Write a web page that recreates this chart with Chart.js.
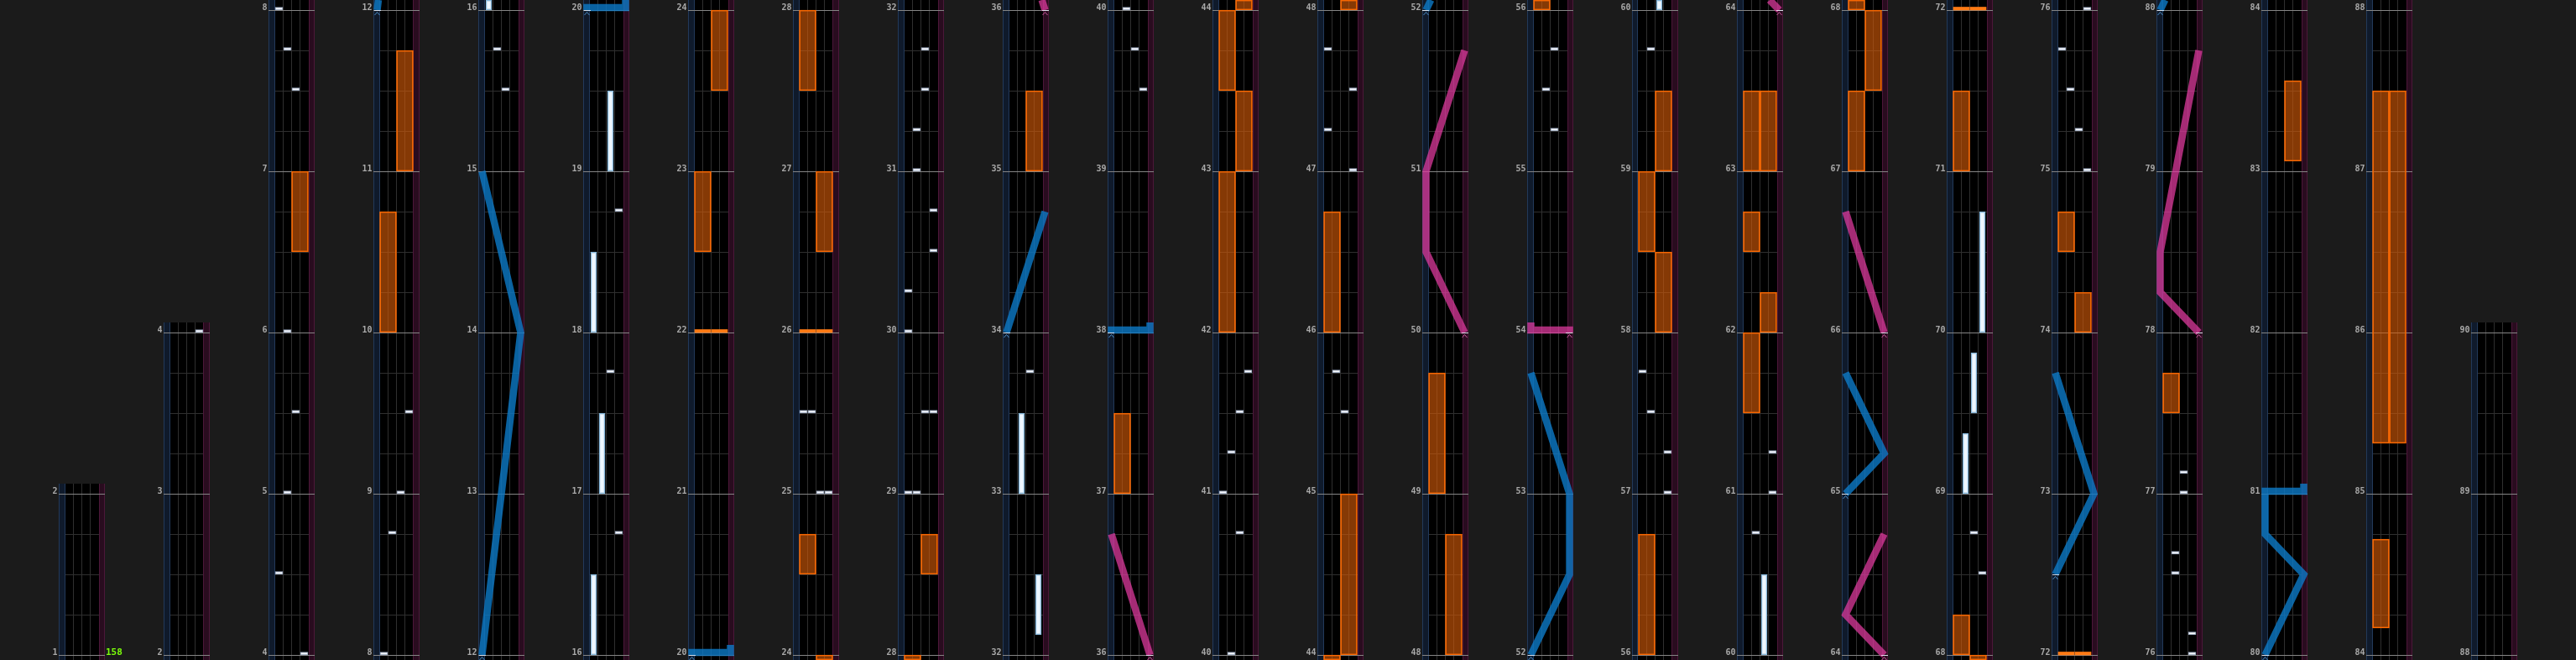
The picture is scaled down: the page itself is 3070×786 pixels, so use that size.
<!DOCTYPE html>
<html>
<head>
<meta charset="utf-8">
<script src="https://cdn.jsdelivr.net/npm/chart.js@4.4.1/dist/chart.umd.min.js"></script>
<style>
html,body{margin:0;padding:0;background:#1b1b1b;overflow:hidden}
canvas{display:block}
</style>
</head>
<body>
<canvas id="c" width="3070" height="786"></canvas>
<script>
// ---------------- DATA ----------------
// measure shown at the bottom of each column, and how many measures each column holds
const columnFirstMeasure = [1,2,4,8,12,16,20,24,28,32,36,40,44,48,52,56,60,64,68,72,76,80,84,88];
const columnMeasureCount = [1,2,4,4,4,4,4,4,4,4,4,4,4,4,4,4,4,4,4,4,4,4,4,2];
// [measure, bpm]
const bpmLabels = [[1, 158]];
// BT chips: [time in measures, lane 0..3]
const btChips = [
  [4.0,3],[4.5,0],[5.0,1],[5.5,2],[6.0,1],[7.5,2],[7.75,1],[8.0,0],[8.75,1],[9.0,2],[9.5,3],
  [15.5,2],[15.75,1],[16.75,3],[17.75,2],[18.75,3],
  [25.0,2],[25.0,3],[25.5,0],[25.5,1],
  [29.0,0],[29.0,1],[29.5,2],[29.5,3],[30.0,0],[30.25,0],[30.5,3],[30.75,3],[31.0,1],[31.25,1],[31.5,2],[31.75,2],
  [33.75,2],[39.5,3],[39.75,2],[40.0,1],[40.75,2],[41.0,0],[41.25,1],[41.5,2],[41.75,3],
  [45.5,2],[45.75,1],[47.0,3],[47.25,0],[47.5,3],[47.75,0],
  [55.25,2],[55.5,1],[55.75,2],[57.0,3],[57.25,3],[57.5,1],[57.75,0],[59.75,1],
  [60.75,1],[61.0,3],[61.25,3],[68.5,3],[68.75,2],
  [75.0,3],[75.25,2],[75.5,1],[75.75,0],[76.0,3],[76.125,3],[76.5,1],[76.625,1],[77.0,2],[77.125,2]
];
// BT holds: [start, end, lane]
const btHolds = [
  [16.0,16.5,0],[17.0,17.5,1],[18.0,18.5,0],[19.0,19.5,2],[32.125,32.5,3],[33.0,33.5,1],
  [60.0,60.5,2],[69.0,69.375,1],[69.5,69.875,2],[70.0,70.75,3]
];
// FX chips: [time, side 0=L 1=R]
const fxChips = [[22.0,0],[22.0,1],[26.0,0],[26.0,1],[72.0,0],[72.0,1]];
// FX holds: [start, end, side]
const fxHolds = [
  [6.5,7.0,1],[10.0,10.75,0],[11.0,11.75,1],[22.5,23.0,0],[23.5,24.0,1],[24.5,24.75,0],
  [26.5,27.0,1],[27.5,28.0,0],[28.5,28.75,1],[35.0,35.5,1],[37.0,37.5,0],[42.0,43.0,0],
  [43.0,43.5,1],[43.5,44.0,0],[44.0,45.0,1],[46.0,46.75,0],[48.0,48.75,1],[49.0,49.75,0],
  [56.0,56.75,0],[58.0,58.5,1],[58.5,59.0,0],[59.0,59.5,1],[61.5,62.0,0],[62.0,62.25,1],
  [62.5,62.75,0],[63.0,63.5,0],[63.0,63.5,1],[67.0,67.5,0],[67.5,68.0,1],[68.0,68.25,0],
  [71.0,71.5,0],[74.0,74.25,1],[74.5,74.75,0],[77.5,77.75,0],[83.0625,83.5625,1],
  [84.1667,84.7188,0],[85.3125,87.5,0],[85.3125,87.5,1]
];
// Lasers: chains of [time, position 0..1]; two points at the same time = slam
const laserLeft = [
  [[12,0],[14,1],[15,0]],
  [[20,0],[20,1]],
  [[34,0],[34.75,1]],
  [[38,0],[38,1]],
  [[52,0],[52.5,1],[53,1],[53.75,0]],
  [[65,0],[65.25,1],[65.75,0]],
  [[72.5,0],[73,1],[73.75,0]],
  [[80,0],[80.5,1],[80.75,0],[81,0],[81,1]]
];
const laserRight = [
  [[36,1],[36.75,0]],
  [[50,1],[50.5,0],[51,0],[51.75,1]],
  [[54,1],[54,0]],
  [[64,1],[64.25,0],[64.75,1]],
  [[66,1],[66.75,0]],
  [[78,1],[78.25,0],[78.5,0],[79.75,1]]
];

// ---------------- GEOMETRY / STYLE ----------------
const G = {
  colOffset: 7, colPitch: 12.5, colWidth: 5.5, strip: 0.75,
  laserInset: 0.45, below: 0.03125, above: 0.0625,
  chipH: 3.5/192, slamLift: 3/192, tail: 1/16
};
const NCOL = columnFirstMeasure.length;
const colLeft = c => G.colOffset + G.colPitch*c;
const btX = (c,l) => colLeft(c) + G.strip + l + 0.5;
const fxX = (c,s) => colLeft(c) + G.strip + 2*s + 1;
const laserX = (c,p) => colLeft(c) + G.laserInset + p*(G.colWidth - 2*G.laserInset);
const colLo = c => columnFirstMeasure[c] - G.below;
const colHi = c => columnFirstMeasure[c] + columnMeasureCount[c] + G.above;

function pieces(a, b) {
  const out = [];
  for (let c = 0; c < NCOL; c++) {
    const s = columnFirstMeasure[c], lo = colLo(c), hi = colHi(c);
    if (b < lo || a > hi) continue;
    out.push({c, y0: Math.max(a,lo) - s, y1: Math.min(b,hi) - s});
  }
  return out;
}

function barData(list, kind) {
  const d = [];
  list.forEach(n => {
    let a, b, lane;
    if (kind === 'chip') { a = n[0]; b = n[0] + G.chipH; lane = n[1]; }
    else { a = n[0]; b = n[1]; lane = n[2]; }
    pieces(a, b).forEach(p => d.push({c: p.c, lane, y: [p.y0, p.y1]}));
  });
  return d;
}

const datasets = [];
datasets.push({
  type:'bar', order: 5, grouped:false, barThickness: 20,
  data: barData(fxHolds,'hold').map(o => ({x: fxX(o.c,o.lane), y: o.y})),
  backgroundColor:'rgba(215,92,8,0.62)', borderColor:'#ff6a00', borderWidth:1.2, borderSkipped:false
});
datasets.push({
  type:'bar', order: 4, grouped:false, barThickness: 19,
  data: barData(fxChips,'chip').map(o => ({x: fxX(o.c,o.lane), y: o.y})),
  backgroundColor:'#ff7a14', borderWidth:0
});
datasets.push({
  type:'bar', order: 3, grouped:false, barThickness: 7,
  data: barData(btHolds,'hold').map(o => ({x: btX(o.c,o.lane), y: o.y})),
  backgroundColor:'#eef7ff', borderColor:'#86b8dc', borderWidth:1.5, borderSkipped:false
});
datasets.push({
  type:'bar', order: 2, grouped:false, barThickness: 9,
  data: barData(btChips,'chip').map(o => ({x: btX(o.c,o.lane), y: o.y})),
  backgroundColor:'#f6f9ff', borderColor:'#8e9db5', borderWidth:1, borderSkipped:false
});

function expandChain(ch) {
  const pts = [];
  for (let i = 0; i < ch.length; i++) {
    const [t,p] = ch[i];
    const nxt = ch[i+1];
    if (nxt && nxt[0] === t) {
      pts.push([t,p]); pts.push([t+G.slamLift,p]); pts.push([t+G.slamLift,nxt[1]]);
      i++;
      if (i === ch.length-1) pts.push([t+G.tail, nxt[1]]);
    } else pts.push([t,p]);
  }
  return pts;
}
function clipChain(pts, lo, hi) {
  const out = [];
  for (let i = 0; i < pts.length-1; i++) {
    const [t0,p0] = pts[i], [t1,p1] = pts[i+1];
    if (t1 < lo || t0 > hi) continue;
    let a = [t0,p0], b = [t1,p1];
    if (t1 > t0) {
      if (t0 < lo) a = [lo, p0 + (p1-p0)*(lo-t0)/(t1-t0)];
      if (t1 > hi) b = [hi, p0 + (p1-p0)*(hi-t0)/(t1-t0)];
    }
    const last = out[out.length-1];
    if (!last || last[0] !== a[0] || last[1] !== a[1]) out.push(a);
    out.push(b);
  }
  return out;
}
function addLasers(chains, color) {
  chains.forEach(ch => {
    const pts = expandChain(ch);
    for (let c = 0; c < NCOL; c++) {
      const seg = clipChain(pts, colLo(c), colHi(c));
      if (seg.length < 2) continue;
      const s = columnFirstMeasure[c];
      datasets.push({
        type:'line', order: 0,
        data: seg.map(([t,p]) => ({x: laserX(c,p), y: t - s})),
        borderColor: color, borderWidth: 8.5, pointRadius: 0, fill: false, tension: 0,
        borderJoinStyle:'miter', borderCapStyle:'butt'
      });
    }
  });
}
addLasers(laserLeft, 'rgba(12,122,200,0.80)');
addLasers(laserRight, 'rgba(222,58,158,0.74)');

// ---------------- GRID (drawn through the scales) ----------------
const gridPlugin = {
  id:'grid',
  beforeDatasetsDraw(chart) {
    const {ctx, scales:{x, y}} = chart;
    ctx.save();
    for (let c = 0; c < NCOL; c++) {
      const L = colLeft(c), n = columnMeasureCount[c], s = columnFirstMeasure[c];
      const xl = Math.round(x.getPixelForValue(L)), xr = Math.round(x.getPixelForValue(L+G.colWidth));
      const xs1 = Math.round(x.getPixelForValue(L+G.strip)), xs2 = Math.round(x.getPixelForValue(L+G.strip+4));
      const yt = Math.round(y.getPixelForValue(n+G.above)), yb = Math.round(y.getPixelForValue(-G.below));
      ctx.fillStyle = '#000'; ctx.fillRect(xl, yt, xr-xl, yb-yt);
      ctx.fillStyle = '#0f1a2b'; ctx.fillRect(xl, yt, xs1-xl, yb-yt);
      ctx.fillStyle = '#290c1f'; ctx.fillRect(xs2, yt, xr-xs2, yb-yt);
      ctx.fillStyle = '#22395a'; ctx.fillRect(xl, yt, 1, yb-yt); ctx.fillRect(xs1-1, yt, 1, yb-yt);
      ctx.fillStyle = '#4c1739'; ctx.fillRect(xs2, yt, 1, yb-yt); ctx.fillRect(xr-1, yt, 1, yb-yt);
      ctx.fillStyle = '#2f2f2f';
      for (let i = 1; i < 4; i++) {
        const px = Math.floor(x.getPixelForValue(L+G.strip+i));
        ctx.fillRect(px, yt, 1, yb-yt);
      }
      for (let k = 1; k < 4*n; k++) {
        if (k % 4 === 0) continue;
        const py = Math.round(y.getPixelForValue(k/4));
        ctx.fillRect(xs1, py, xs2-xs1, 1);
      }
      ctx.font = 'bold 10px "DejaVu Sans Mono"';
      ctx.textAlign = 'right'; ctx.textBaseline = 'alphabetic';
      for (let k = 0; k <= n; k++) {
        const py = Math.round(y.getPixelForValue(k));
        ctx.fillStyle = '#858585'; ctx.fillRect(xl, py, xr-xl, 1);
        ctx.fillStyle = '#a9a9a9'; ctx.fillText(String(s+k), xl-1.5, py);
      }
      bpmLabels.forEach(([m,bpm]) => {
        if (m >= s && m < s+n) {
          ctx.font = 'bold 11px "DejaVu Sans Mono"';
          ctx.textAlign = 'left'; ctx.fillStyle = '#7cff0a';
          ctx.fillText(String(bpm), xr+1, Math.round(y.getPixelForValue(m-s)));
        }
      });
    }
    ctx.restore();
  },
  afterDatasetsDraw(chart) {
    const {ctx, scales:{x, y}} = chart;
    ctx.save();
    const mark = (chains, col) => chains.forEach(ch => {
      const [t0,p0] = ch[0];
      for (let c = 0; c < NCOL; c++) {
        if (t0 < colLo(c) || t0 > colHi(c)) continue;
        const cx = x.getPixelForValue(laserX(c,p0));
        const py = Math.round(y.getPixelForValue(t0 - columnFirstMeasure[c]));
        ctx.fillStyle = 'rgba(235,240,250,0.85)';
        ctx.fillRect(Math.round(cx-4), py, 8, 1);
        ctx.strokeStyle = col; ctx.lineWidth = 1;
        ctx.beginPath();
        ctx.moveTo(cx-3, py+6); ctx.lineTo(cx, py+2.5); ctx.lineTo(cx+3, py+6);
        ctx.stroke();
      }
    });
    mark(laserLeft, '#4a8cc4');
    mark(laserRight, '#c85a9c');
    ctx.restore();
  }
};

new Chart(document.getElementById('c').getContext('2d'), {
  type:'bar',
  data:{datasets},
  options:{
    responsive:false, animation:false, events:[],
    layout:{padding:0},
    plugins:{legend:{display:false}, tooltip:{enabled:false}},
    scales:{
      x:{type:'linear', min:0, max:307, offset:false, display:false},
      y:{type:'linear', min:-G.below, max:4 + G.above, display:false}
    }
  },
  plugins:[gridPlugin]
});
</script>
</body>
</html>
